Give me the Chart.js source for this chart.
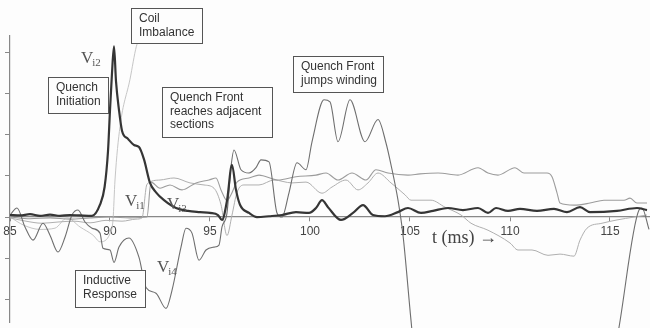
<!DOCTYPE html>
<html>
<head>
<meta charset="utf-8">
<script src="https://cdn.jsdelivr.net/npm/chart.js@4"></script>
<style>
  html, body { margin: 0; padding: 0; background: #fdfdfd; }
  canvas { display: block; }
</style>
</head>
<body>
<canvas id="canvas" width="650" height="328"></canvas>
<script>
// time axis (ms) and tick values
const xTicks = [85, 90, 95, 100, 105, 110, 115];
const yTicks = [-2, -1, 0, 1, 2, 3, 4];

// V_i2 - dark trace, quench initiation
const vi2T = [85, 85.5, 86, 86.5, 87, 87.5, 88, 88.5, 89.1, 89.5, 89.73, 89.9, 90.0, 90.1, 90.2, 90.3, 90.45, 90.6, 90.9, 91.2, 91.45, 91.7, 92.0, 92.3, 92.7, 93.3, 93.9, 94.5, 95.0, 95.4, 95.6, 95.85, 96.1, 96.3, 96.5, 96.95, 97.35, 97.95, 98.6, 99.3, 99.95, 100.3, 100.6, 100.9, 101.55, 102.15, 102.65, 103.15, 103.75, 104.4, 104.9, 105.55, 106.15, 106.9, 107.65, 108.4, 108.9, 109.3, 109.9, 110.5, 111.35, 112.2, 112.85, 113.5, 114.0, 115.35, 116.35, 116.85];
const vi2V = [0.05, 0.04, 0.07, 0.03, 0.06, 0.03, 0.05, 0.04, 0.03, 0.3, 0.73, 1.6, 2.6, 3.5, 4.15, 3.3, 2.6, 2.1, 1.9, 1.75, 1.7, 1.4, 0.83, 0.6, 0.41, 0.22, 0.15, 0.12, 0.1, 0.05, -0.07, 0.4, 1.27, 0.66, 0.3, 0.1, 0.0, 0.02, 0.05, 0.12, 0.1, 0.22, 0.41, 0.24, -0.07, 0.1, 0.29, 0.05, 0.02, 0.12, 0.22, 0.1, 0.15, 0.22, 0.17, 0.22, 0.1, 0.22, 0.15, 0.2, 0.15, 0.2, 0.12, 0.24, 0.12, 0.15, 0.22, 0.17];

// V_i1
const vi1T = [85, 85.8, 86.6, 87.4, 88.2, 89.0, 89.8, 90.6, 91.3, 91.6, 91.85, 92.5, 93.2, 94.0, 94.7, 95.2, 95.55, 95.85, 96.1, 96.35, 96.7, 97.45, 98.2, 99.1, 99.8, 100.6, 101.1, 101.8, 102.4, 102.9, 103.4, 104.05, 104.75, 105.05, 106.05, 106.75, 107.55, 108.05, 108.9, 110.0, 110.4, 111.1, 111.9, 112.5, 113.2, 113.5, 113.85, 114.6, 115.35, 116.2, 116.85];
const vi1V = [-0.02, -0.1, -0.15, -0.12, -0.1, -0.14, -0.08, -0.1, -0.05, -0.02, 0.8, 0.9, 0.95, 0.83, 0.78, 0.7, 0.3, -0.45, 0.05, 0.6, 0.78, 0.78, 0.9, 0.83, 0.85, 0.58, 0.73, 0.9, 0.66, 0.83, 1.07, 0.83, 0.54, 0.41, 0.41, 0.24, 0.05, -0.15, -0.32, -0.63, -0.8, -0.8, -0.93, -0.9, -0.95, -0.56, -0.27, -0.15, -0.07, 0.0, 0.05];

// V_i3
const vi3T = [85, 86, 87, 88, 89, 90, 91, 91.85, 92.05, 92.5, 93.0, 93.6, 94.3, 94.95, 95.3, 95.55, 95.85, 96.05, 96.35, 96.95, 97.45, 98.4, 99.3, 100.3, 100.8, 101.4, 102.1, 102.8, 103.3, 103.9, 104.9, 105.5, 106.4, 107.4, 108.4, 108.9, 109.4, 110.25, 110.7, 111.85, 112.1, 112.35, 112.5, 113.2, 114.0, 114.7, 115.7, 116.0, 116.35, 116.85];
const vi3V = [0.0, -0.04, -0.02, -0.05, -0.02, 0.0, -0.02, 0.0, 0.85, 0.7, 0.78, 0.66, 0.83, 0.9, 0.95, 0.66, 0.4, 0.54, 0.85, 0.95, 1.02, 0.9, 0.98, 1.02, 1.07, 0.9, 1.07, 0.9, 1.15, 1.07, 1.02, 1.05, 1.07, 1.02, 1.2, 1.07, 1.02, 1.2, 1.07, 1.07, 0.98, 0.59, 0.34, 0.29, 0.34, 0.41, 0.41, 0.46, 0.34, 0.34];

// V_i4 - inductive response, runs off scale after 105 ms
const vi4T = [85.0, 85.35, 85.75, 86.15, 86.65, 87.0, 87.4, 87.75, 88.1, 88.4, 88.75, 89.1, 89.5, 89.65, 90.0, 90.2, 90.45, 90.95, 91.45, 91.8, 92.3, 92.8, 93.1, 93.55, 93.8, 94.1, 94.45, 94.8, 95.2, 95.45, 95.6, 95.85, 96.05, 96.2, 96.55, 96.95, 97.3, 97.55, 97.95, 98.35, 98.6, 98.95, 99.35, 99.8, 100.1, 100.7, 101.0, 101.4, 102.0, 102.75, 103.4, 103.8, 104.05, 104.4, 104.65, 105.05, 106.0, 113.9, 115.45, 116.45, 116.6, 116.95];
const vi4V = [0.05, 0.22, -0.24, -0.56, -0.15, -0.44, -0.85, -0.49, 0.05, 0.17, -0.12, -0.27, -0.39, -0.76, -0.8, -1.1, -0.73, -0.51, -0.98, -1.71, -1.85, -2.22, -1.78, -0.73, -0.27, -0.39, -1.05, -0.8, -0.73, -0.68, -0.24, 0.1, 1.22, 1.63, 1.15, 1.07, 1.2, 1.39, 1.34, 0.1, 0.0, 0.59, 1.32, 1.15, 1.83, 2.85, 2.8, 1.83, 2.85, 1.83, 2.37, 1.8, 1.27, 0.41, -0.44, -2.51, -7.0, -7.0, -2.68, 0.17, 0.22, -0.3];

// coil imbalance signal, leaves the scale at the top
const coilT = [85, 85.7, 86.5, 87.25, 87.85, 88.5, 89.15, 89.5, 90.0, 90.15, 90.25, 90.5, 91.0, 91.32, 91.45];
const coilV = [0, -0.2, -0.3, -0.27, -0.02, -0.24, -0.44, -0.6, -0.4, -0.07, 0.9, 2.2, 3.35, 4.15, 4.3];

const pts = (t, v) => t.map((x, i) => ({x: x, y: v[i]}));

const notes = [
  {x: 131, y: 8, w: 71, h: 35, lines: ['Coil', 'Imbalance']},
  {x: 48, y: 77, w: 60, h: 36, lines: ['Quench', 'Initiation']},
  {x: 162, y: 87, w: 110, h: 50, lines: ['Quench Front', 'reaches adjacent', 'sections']},
  {x: 293, y: 56, w: 90, h: 36, lines: ['Quench Front', 'jumps winding']},
  {x: 75, y: 270, w: 70, h: 37, lines: ['Inductive', 'Response']}
];
const traceLabels = [
  {x: 81, y: 63, sub: 'i2'},
  {x: 125, y: 206, sub: 'i1'},
  {x: 167, y: 209, sub: 'i3'},
  {x: 157, y: 272, sub: 'i4'}
];

const annotations = {
  id: 'annotations',
  beforeDraw(chart) {
    const c = chart.ctx;
    c.save();
    c.fillStyle = '#fdfdfd';
    c.fillRect(0, 0, chart.width, chart.height);
    c.restore();
  },
  afterDraw(chart) {
    const c = chart.ctx;
    c.save();
    notes.forEach(n => {
      c.fillStyle = '#fdfdfd';
      c.fillRect(n.x, n.y, n.w, n.h);
      c.strokeStyle = '#555';
      c.lineWidth = 1;
      c.strokeRect(n.x + 0.5, n.y + 0.5, n.w, n.h);
      c.fillStyle = '#333';
      c.font = '12px "Liberation Sans", Arial, sans-serif';
      c.textBaseline = 'middle';
      n.lines.forEach((l, i) => c.fillText(l, n.x + 8, n.y + 11 + i * 13.5));
    });
    c.fillStyle = '#555';
    c.textBaseline = 'alphabetic';
    traceLabels.forEach(l => {
      c.font = '17px "Liberation Serif", serif';
      c.fillText('V', l.x, l.y);
      const w = c.measureText('V').width;
      c.font = '11px "Liberation Serif", serif';
      c.fillText(l.sub, l.x + w - 1, l.y + 3);
    });
    c.fillStyle = '#444';
    c.font = '18px "Liberation Serif", serif';
    c.textBaseline = 'middle';
    c.fillText('t (ms) \u2192', 432, 238);
    c.restore();
  }
};

const ctx = document.getElementById('canvas').getContext('2d');
new Chart(ctx, {
  type: 'line',
  data: {
    datasets: [
      {label: 'Vi2', data: pts(vi2T, vi2V), borderColor: '#353535', borderWidth: 2.2},
      {label: 'Vi4', data: pts(vi4T, vi4V), borderColor: '#6e6e6e', borderWidth: 1.1, clip: {left: 0, top: 0, right: 2, bottom: 10}},
      {label: 'Vi3', data: pts(vi3T, vi3V), borderColor: '#9c9c9c', borderWidth: 1.1},
      {label: 'Vi1', data: pts(vi1T, vi1V), borderColor: '#b0b0b0', borderWidth: 1},
      {label: 'Coil', data: pts(coilT, coilV), borderColor: '#c6c6c6', borderWidth: 1}
    ]
  },
  options: {
    responsive: false,
    animation: false,
    elements: {point: {radius: 0}, line: {cubicInterpolationMode: 'monotone'}},
    layout: {padding: {left: 0, right: 1, top: 36, bottom: 6}},
    plugins: {legend: {display: false}, tooltip: {enabled: false}},
    scales: {
      x: {
        type: 'linear',
        min: 85,
        max: 116.95,
        position: {y: 0},
        afterBuildTicks: s => { s.ticks = xTicks.map(v => ({value: v})); },
        grid: {drawOnChartArea: false, tickLength: 4, color: '#888'},
        border: {color: '#888', width: 1.3},
        ticks: {color: '#444', font: {family: '"Liberation Sans", Arial', size: 12}, padding: 3, maxRotation: 0, autoSkip: false}
      },
      y: {
        min: -2.55,
        max: 4.4,
        afterBuildTicks: s => { s.ticks = yTicks.map(v => ({value: v})); },
        afterFit: s => { s.width = 10; },
        grid: {drawOnChartArea: false, tickLength: 5, color: '#888'},
        border: {color: '#888', width: 1.2},
        ticks: {display: false}
      }
    }
  },
  plugins: [annotations]
});
</script>
</body>
</html>
